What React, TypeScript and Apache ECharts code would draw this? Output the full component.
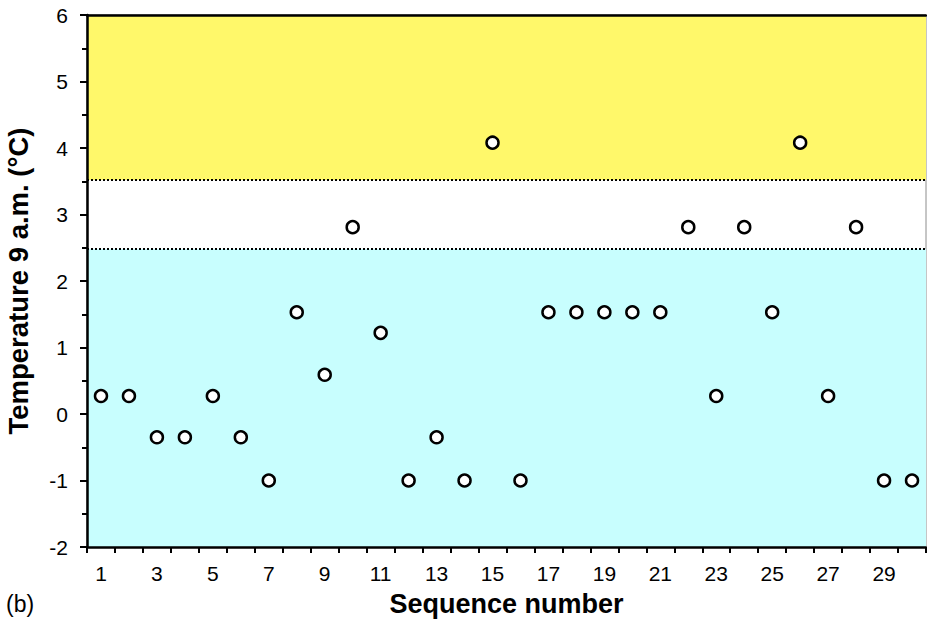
import React, { useEffect, useRef } from "react";
import * as echarts from "echarts";

const categories = Array.from({ length: 30 }, (_, i) => String(i + 1));
const temps = [
  0.27, 0.27, -0.35, -0.35, 0.27, -0.35, -1.0, 1.53, 0.59, 2.81,
  1.22, -1.0, -0.35, -1.0, 4.08, -1.0, 1.53, 1.53, 1.53, 1.53,
  1.53, 2.81, 0.27, 2.81, 1.53, 4.08, 0.27, 2.81, -1.0, -1.0,
];
const upperLimit = 3.52;
const lowerLimit = 2.48;
const yMin = -2;
const yMax = 6;

export default function App() {
  const ref = useRef<HTMLDivElement>(null);
  useEffect(() => {
    const chart = echarts.init(ref.current!, null, { renderer: "svg" });
    const font = "'Liberation Sans', Arial, sans-serif";
    chart.setOption({
      animation: false,
      textStyle: { fontFamily: font },
      grid: {
        left: 87,
        right: 1,
        top: 15,
        bottom: 82,
        outerBoundsMode: "none",
        containLabel: false,
        show: true,
        borderColor: "#8c8c8c",
        borderWidth: 1,
      },
      xAxis: [
        {
          type: "category",
          data: categories,
          boundaryGap: true,
          z: 10,
          name: "Sequence number",
          nameLocation: "middle",
          nameGap: 43,
          nameTextStyle: { fontSize: 27, fontWeight: "bold", color: "#000", fontFamily: font },
          axisLine: { onZero: false, lineStyle: { color: "#000", width: 2.5 } },
          axisTick: { show: true, interval: 0, length: 6, lineStyle: { color: "#000", width: 2 } },
          axisLabel: { interval: 1, fontSize: 21, color: "#000", margin: 16, fontFamily: font },
          splitLine: { show: false },
        },
        {
          type: "category",
          data: categories,
          position: "top",
          z: 10,
          axisLine: { onZero: false, lineStyle: { color: "#000", width: 2.5 } },
          axisTick: { show: false },
          axisLabel: { show: false },
        },
      ],
      yAxis: {
        type: "value",
        min: yMin,
        max: yMax,
        interval: 1,
        z: 10,
        name: "Temperature 9 a.m. (°C)",
        nameLocation: "middle",
        nameGap: 55,
        nameTextStyle: { fontSize: 27.5, fontWeight: "bold", color: "#000", fontFamily: font },
        axisLine: { show: true, onZero: false, lineStyle: { color: "#000", width: 2.5 } },
        axisTick: { show: true, length: 7, lineStyle: { color: "#000", width: 2 } },
        minorTick: { show: true, splitNumber: 2, length: 5, lineStyle: { color: "#000", width: 2 } },
        axisLabel: { fontSize: 21, color: "#000", margin: 19, fontFamily: font },
        splitLine: { show: false },
      },
      series: [
        {
          type: "scatter",
          data: temps,
          symbol: "circle",
          symbolSize: 12,
          itemStyle: { color: "#fff", borderColor: "#000", borderWidth: 2.5, opacity: 1 },
          z: 5,
          markArea: {
            silent: true,
            data: [
              [
                { yAxis: upperLimit, itemStyle: { color: "#fff86a", opacity: 1 } },
                { yAxis: yMax },
              ],
              [
                { yAxis: yMin, itemStyle: { color: "#c8fefe", opacity: 1 } },
                { yAxis: lowerLimit },
              ],
            ],
          },
          markLine: {
            silent: true,
            symbol: "none",
            label: { show: false },
            lineStyle: { color: "#000", type: [2, 2], width: 2 },
            data: [{ yAxis: upperLimit }, { yAxis: lowerLimit }],
          },
        },
      ],
      graphic: [
        {
          type: "text",
          left: 135,
          top: 58,
          style: { text: "'true' °R", fontSize: 24, fill: "#000", fontFamily: font },
        },
        {
          type: "text",
          left: 6,
          top: 592,
          style: { text: "(b)", fontSize: 23, fill: "#000", fontFamily: font },
        },
      ],
    });
    return () => chart.dispose();
  }, []);
  return <div ref={ref} style={{ width: 927, height: 629, position: "absolute", left: 0, top: 0 }} />;
}
